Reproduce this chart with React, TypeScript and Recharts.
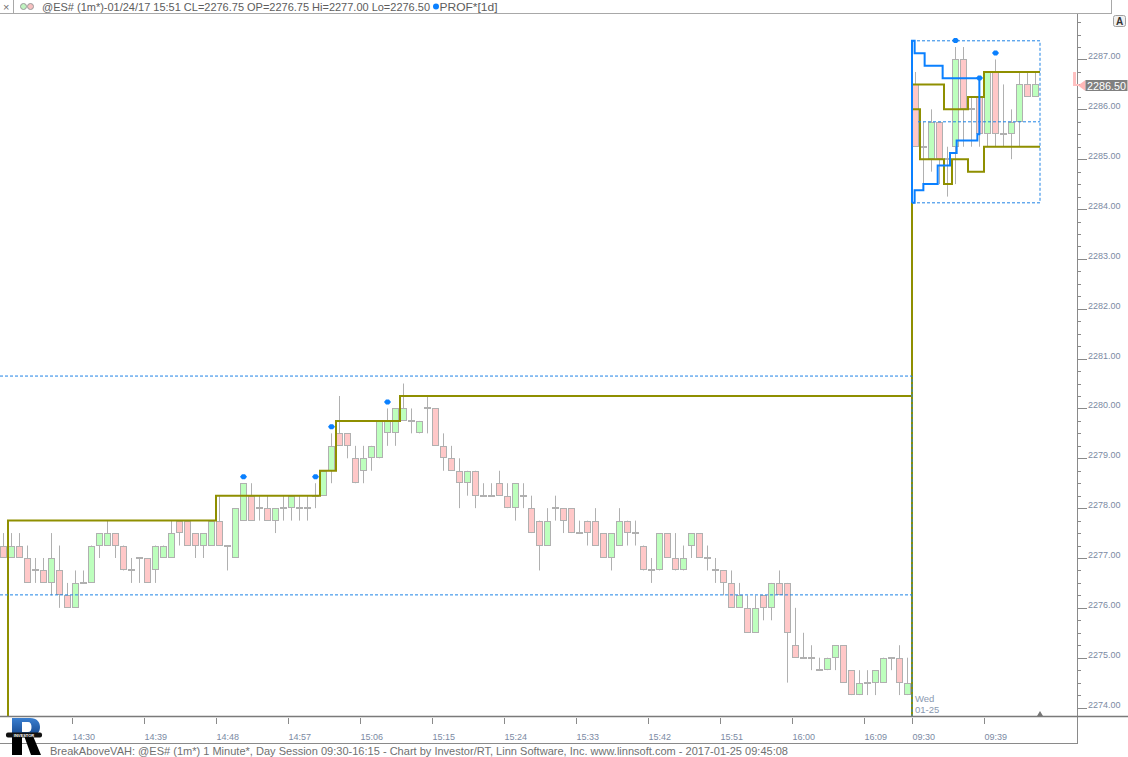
import React from 'react';
import { ComposedChart, Bar, Line, XAxis, YAxis } from 'recharts';

const FONT = '"Liberation Sans", Arial, sans-serif';
const AXIS = '#8a8a8a';
const LABEL = '#7b8aa3';
const WICK = '#b0b0b0';
const UP = '#bdffbd';
const DOWN = '#ffc8c8';
const OLIVE = '#8f8f00';
const BLUE = '#0a80ff';
const BLUE_DASH = '#1f84e6';

// price scale of the plot (plot spans y 14..716)
const Y_MIN = 2273.8305;
const Y_MAX = 2287.9127;
const X_MAX = 134.625; // bar slots across the plot width, incl. right gap

// one-minute bars: tail of 01/24 session, then the 01/25 open
const day1Start = '14:21';
const day1Bars = 114;
const day2Start = '09:30';
const day2Bars = 16;

function minuteLabels(start: string, count: number) {
  const [hh, mm] = start.split(':').map(Number);
  const out: string[] = [];
  for (let i = 0; i < count; i++) {
    const m = hh * 60 + mm + i;
    out.push(`${String(Math.floor(m / 60)).padStart(2, '0')}:${String(m % 60).padStart(2, '0')}`);
  }
  return out;
}
const times = [...minuteLabels(day1Start, day1Bars), ...minuteLabels(day2Start, day2Bars)];

const opens = [
  2277.25, 2277.0, 2277.25, 2277.0, 2276.75, 2276.75, 2276.5, 2276.75, 2276.25, 2276.0,
  2276.5, 2276.5, 2277.25, 2277.25, 2277.5, 2277.25, 2276.75, 2277.0, 2277.0, 2276.75,
  2277.0, 2277.0, 2277.75, 2277.75, 2277.5, 2277.25, 2277.25, 2277.75, 2277.25, 2277.0,
  2277.75, 2278.25, 2278.0, 2278.0, 2277.75, 2278.0, 2278.0, 2278.0, 2278.0, 2278.25,
  2278.25, 2278.75, 2279.5, 2279.5, 2279.0, 2278.75, 2279.0, 2279.0, 2279.5, 2279.5,
  2279.75, 2279.75, 2279.5, 2280.0, 2280.0, 2279.25, 2279.0, 2278.75, 2278.5, 2278.75,
  2278.25, 2278.25, 2278.5, 2278.25, 2278.0, 2278.25, 2278.0, 2277.75, 2277.25, 2278.0,
  2278.0, 2278.0, 2277.5, 2277.75, 2277.75, 2277.5, 2277.0, 2277.25, 2277.75, 2277.5,
  2277.25, 2276.75, 2276.75, 2277.5, 2277.0, 2276.75, 2277.25, 2277.5, 2277.0, 2276.75,
  2276.75, 2276.5, 2276.0, 2276.0, 2275.5, 2276.25, 2276.0, 2276.5, 2276.5, 2275.25,
  2275.0, 2275.0, 2274.75, 2274.75, 2275.0, 2275.25, 2274.75, 2274.25, 2274.5, 2274.5,
  2274.5, 2275.0, 2275.0, 2274.25,
  2286.5, 2285.25, 2285.0, 2285.75, 2285.0, 2285.25,
  2287.0, 2286.0, 2286.25, 2285.5, 2286.75, 2285.5, 2285.5, 2285.75, 2286.5, 2286.25,
];
const highs = [
  2277.5, 2277.5, 2277.5, 2277.25, 2277.0, 2277.0, 2277.5, 2277.25, 2276.5, 2276.75,
  2276.75, 2277.25, 2277.5, 2277.75, 2277.5, 2277.25, 2277.0, 2277.0, 2277.0, 2277.25,
  2277.25, 2277.75, 2277.75, 2277.75, 2277.5, 2277.5, 2277.75, 2278.25, 2277.25, 2278.0,
  2278.5, 2278.5, 2278.25, 2278.25, 2278.0, 2278.25, 2278.25, 2278.25, 2278.25, 2278.5,
  2278.75, 2279.5, 2280.25, 2279.5, 2279.25, 2279.25, 2279.25, 2279.75, 2280.0, 2280.0,
  2280.5, 2280.0, 2279.75, 2280.25, 2280.0, 2279.5, 2279.25, 2279.0, 2278.75, 2278.75,
  2278.5, 2278.5, 2278.75, 2278.5, 2278.5, 2278.5, 2278.25, 2277.75, 2278.0, 2278.25,
  2278.0, 2278.0, 2277.75, 2277.75, 2278.0, 2277.5, 2277.5, 2278.0, 2277.75, 2277.75,
  2277.25, 2277.0, 2277.5, 2277.5, 2277.5, 2277.25, 2277.5, 2277.5, 2277.25, 2277.0,
  2276.75, 2276.75, 2276.5, 2276.25, 2276.25, 2276.25, 2276.5, 2276.75, 2276.5, 2276.0,
  2275.5, 2275.25, 2275.0, 2275.0, 2275.25, 2275.25, 2274.75, 2274.75, 2274.75, 2274.75,
  2275.0, 2275.0, 2275.25, 2275.0,
  2286.75, 2285.75, 2286.0, 2285.75, 2285.25, 2287.25,
  2287.25, 2286.25, 2286.5, 2286.75, 2287.0, 2286.5, 2286.0, 2286.75, 2286.75, 2286.75,
];
const lows = [
  2277.0, 2277.0, 2277.0, 2276.5, 2276.5, 2276.5, 2276.25, 2276.0, 2276.0, 2276.0,
  2276.5, 2276.5, 2277.0, 2277.25, 2277.0, 2276.75, 2276.5, 2276.5, 2276.5, 2276.5,
  2277.0, 2277.0, 2277.25, 2277.25, 2277.0, 2277.0, 2277.25, 2277.25, 2276.75, 2277.0,
  2277.75, 2277.75, 2277.75, 2277.75, 2277.5, 2277.75, 2277.75, 2277.75, 2277.75, 2278.0,
  2278.25, 2278.5, 2279.25, 2279.0, 2278.5, 2278.5, 2278.75, 2279.0, 2279.25, 2279.25,
  2279.75, 2279.5, 2279.5, 2279.5, 2279.25, 2278.75, 2278.75, 2278.0, 2278.25, 2278.0,
  2278.25, 2278.25, 2278.25, 2278.0, 2277.75, 2278.0, 2277.5, 2276.75, 2277.25, 2277.75,
  2277.5, 2277.5, 2277.5, 2277.25, 2277.25, 2277.0, 2276.75, 2277.25, 2277.25, 2277.25,
  2276.75, 2276.5, 2276.75, 2277.0, 2276.75, 2276.75, 2277.0, 2277.0, 2276.75, 2276.5,
  2276.25, 2276.0, 2276.0, 2275.5, 2275.5, 2275.75, 2275.75, 2276.25, 2274.5, 2275.0,
  2275.0, 2274.75, 2274.75, 2274.75, 2274.75, 2274.5, 2274.25, 2274.25, 2274.25, 2274.25,
  2274.5, 2274.75, 2274.25, 2274.25,
  2285.25, 2284.5, 2284.75, 2284.5, 2284.25, 2284.5,
  2285.25, 2285.25, 2285.25, 2285.25, 2285.25, 2285.25, 2285.0, 2285.25, 2286.25, 2286.25,
];
const closes = [
  2277.0, 2277.25, 2277.0, 2276.5, 2276.75, 2276.5, 2277.0, 2276.25, 2276.0, 2276.5,
  2276.5, 2277.25, 2277.5, 2277.5, 2277.25, 2276.75, 2276.75, 2277.0, 2276.5, 2277.25,
  2277.25, 2277.5, 2277.5, 2277.25, 2277.25, 2277.5, 2277.75, 2277.25, 2277.25, 2278.0,
  2278.5, 2277.75, 2278.0, 2277.75, 2278.0, 2278.0, 2278.25, 2278.0, 2278.0, 2278.25,
  2278.75, 2279.25, 2279.25, 2279.25, 2278.5, 2279.0, 2279.25, 2279.75, 2279.75, 2280.0,
  2280.0, 2279.75, 2279.75, 2280.0, 2279.25, 2279.0, 2278.75, 2278.5, 2278.75, 2278.25,
  2278.25, 2278.25, 2278.25, 2278.0, 2278.5, 2278.25, 2277.5, 2277.25, 2277.75, 2278.0,
  2277.75, 2277.5, 2277.5, 2277.5, 2277.25, 2277.0, 2277.5, 2277.75, 2277.5, 2277.5,
  2276.75, 2276.75, 2277.5, 2277.0, 2276.75, 2277.0, 2277.5, 2277.0, 2277.0, 2276.75,
  2276.5, 2276.0, 2276.25, 2275.5, 2276.0, 2276.0, 2276.5, 2276.25, 2275.5, 2275.0,
  2275.0, 2275.0, 2274.75, 2275.0, 2275.25, 2274.5, 2274.25, 2274.5, 2274.5, 2274.75,
  2275.0, 2275.0, 2274.5, 2274.5,
  2285.25, 2285.25, 2285.75, 2285.0, 2285.0, 2287.0,
  2286.0, 2286.0, 2285.5, 2286.75, 2285.5, 2285.5, 2285.75, 2286.5, 2286.25, 2286.5,
];

// bars flagged by the BreakAboveVAH scan (blue dots)
const signalBars = [30, 39, 41, 48, 119, 122, 124];

const xTickLabels = ['14:30', '14:39', '14:48', '14:57', '15:06', '15:15', '15:24', '15:33', '15:42', '15:51', '16:00', '16:09', '09:30', '09:39'];
const priceLabels = [2274, 2275, 2276, 2277, 2278, 2279, 2280, 2281, 2282, 2283, 2284, 2285, 2286, 2287];
const yTicks = priceLabels.flatMap((p) => [p, p + 0.25, p + 0.5, p + 0.75]);

// developing value area (olive), x in bar slots
const vahT = [0, 1, 27, 40, 42, 50, 114, 118, 121, 123, 130];
const vahV = [2273.5, 2277.75, 2278.25, 2278.75, 2279.75, 2280.25, 2286.5, 2286.0, 2286.25, 2286.75, 2286.75];
const valT = [0, 114, 115, 118, 119, 121, 123, 130];
const valV = [2273.5, 2286.0, 2285.0, 2284.5, 2285.0, 2284.75, 2285.25, 2285.25];

// developing range of the new session (solid blue)
const upT = [114, 114, 114.33, 115.58, 117.83, 122.42];
const upV = [2284.125, 2287.375, 2287.125, 2286.875, 2286.625, 2286.625];
const lowT = [114, 114.33, 115.42, 117.21, 118.75, 119.58, 122.17, 122.42];
const lowV = [2284.125, 2284.375, 2284.5, 2284.875, 2285.125, 2285.375, 2285.5, 2286.625];

// prior-day value area (dashed) and today's profile box
const prevVahT = [0, 114, 114];
const prevVahV = [2280.65, 2280.65, 2273.5];
const prevValT = [0, 114];
const prevValV = [2276.26, 2276.26];
const boxT = [114, 130, 130, 114, 114];
const boxV = [2287.375, 2287.375, 2284.125, 2284.125, 2287.375];
const innerT = [114.75, 130];
const innerV = [2285.75, 2285.75];

const pts = (ts: number[], vs: number[]) => ts.map((t, i) => ({ t, v: vs[i] }));

const candles = times.map((time, i) => ({
  time,
  o: opens[i],
  h: highs[i],
  l: lows[i],
  c: closes[i],
  sig: signalBars.includes(i),
}));

function Candle(props: any) {
  const { x, y, width, height, payload } = props;
  if (x == null || !payload) return <g />;
  const { o, h, l, c, sig } = payload;
  const top = Math.min(y, y + height);
  const span = Math.abs(height);
  const py = (v: number) => top + (h > l ? ((h - v) / (h - l)) * span : 0);
  const mid = Math.floor(x + width / 2) - 0.5;
  const bTop = Math.round(py(Math.max(o, c))) + 0.5;
  const bBot = Math.round(py(Math.min(o, c))) - 0.5;
  return (
    <g>
      <line x1={mid} x2={mid} y1={py(h)} y2={py(l)} stroke={WICK} strokeWidth={1} />
      {o === c ? (
        <line x1={mid - 3.5} x2={mid + 3.5} y1={Math.round(py(o))} y2={Math.round(py(o))} stroke={WICK} strokeWidth={2} />
      ) : (
        <rect x={mid - 3} y={bTop} width={6} height={Math.max(1, bBot - bTop)} fill={c > o ? UP : DOWN} stroke={WICK} strokeWidth={1} />
      )}
      {sig && (
        <polygon
          points={`${mid - 3.5},${py(h) - 6.5} ${mid - 1.5},${py(h) - 9} ${mid + 1.5},${py(h) - 9} ${mid + 3.5},${py(h) - 6.5} ${mid + 1.5},${py(h) - 4} ${mid - 1.5},${py(h) - 4}`}
          fill={BLUE}
        />
      )}
    </g>
  );
}

function TimeTick({ x, y, payload }: any) {
  if (!xTickLabels.includes(payload.value)) return <g />;
  const tx = Math.round(x - 4) + 0.5;
  return (
    <g>
      <line x1={tx} x2={tx} y1={y + 2} y2={y + 8} stroke={AXIS} />
      <text x={tx} y={y + 24} fontSize={9} fill={LABEL} fontFamily={FONT}>{payload.value}</text>
    </g>
  );
}

function PriceTick({ x, y, payload }: any) {
  const v = payload.value;
  const yy = Math.round(y) + 0.5;
  if (Math.abs(v - Math.round(v)) > 1e-6) {
    return <line x1={x} x2={x + 4} y1={yy} y2={yy} stroke={AXIS} />;
  }
  return (
    <g>
      <line x1={x} x2={x + 10} y1={yy} y2={yy} stroke={AXIS} />
      <text x={x + 11} y={yy - 1} fontSize={9} fill={LABEL} fontFamily={FONT}>{v.toFixed(2)}</text>
    </g>
  );
}

function stepLine(key: string, ts: number[], vs: number[], color: string, width: number, dash?: string, type: any = 'stepAfter') {
  return (
    <Line
      key={key}
      xAxisId="num"
      data={pts(ts, vs)}
      dataKey="v"
      type={type}
      stroke={color}
      strokeWidth={width}
      strokeDasharray={dash}
      dot={false}
      activeDot={false}
      legendType="none"
      isAnimationActive={false}
    />
  );
}

export default function App() {
  return (
    <div style={{ position: 'relative', width: 1128, height: 757, background: '#fff', fontFamily: FONT }}>
      <style>{'body{margin:0}'}</style>
      <ComposedChart width={1128} height={757} data={candles} margin={{ top: 14, right: 0, bottom: 13, left: 0 }}>
        <XAxis
          xAxisId="cat"
          dataKey="time"
          interval={0}
          height={28}
          tickSize={0}
          tickMargin={0}
          axisLine={false}
          tickLine={false}
          padding={{ left: 0, right: 37 }}
          tick={(p: any) => <TimeTick {...p} />}
        />
        <XAxis xAxisId="num" type="number" dataKey="t" domain={[0, X_MAX]} allowDataOverflow hide />
        <YAxis
          orientation="right"
          width={51}
          domain={[Y_MIN, Y_MAX]}
          allowDataOverflow
          ticks={yTicks}
          interval={0}
          tickSize={0}
          tickMargin={0}
          axisLine={false}
          tickLine={false}
          tick={(p: any) => <PriceTick {...p} />}
        />
        <Bar
          xAxisId="cat"
          dataKey={(d: any) => [d.l, d.h]}
          barSize={6}
          shape={(p: any) => <Candle {...p} />}
          isAnimationActive={false}
        />
        {stepLine('vah', vahT, vahV, OLIVE, 2)}
        {stepLine('val', valT, valV, OLIVE, 2)}
        {stepLine('pvah', prevVahT, prevVahV, BLUE_DASH, 1, '3 2', 'linear')}
        {stepLine('pval', prevValT, prevValV, BLUE_DASH, 1, '3 2', 'linear')}
        {stepLine('box', boxT, boxV, BLUE_DASH, 1, '3 2', 'linear')}
        {stepLine('inner', innerT, innerV, BLUE_DASH, 1, '3 2', 'linear')}
        {stepLine('up', upT, upV, BLUE, 2)}
        {stepLine('low', lowT, lowV, BLUE, 2)}
      </ComposedChart>

      <svg width={1128} height={757} style={{ position: 'absolute', left: 0, top: 0, pointerEvents: 'none' }} fontFamily={FONT}>
        <defs>
          <linearGradient id="rlogo" x1="0" y1="0" x2="0" y2="1">
            <stop offset="0" stopColor="#3a7fd0" />
            <stop offset="0.42" stopColor="#1b4f96" />
            <stop offset="0.46" stopColor="#000" />
            <stop offset="1" stopColor="#000" />
          </linearGradient>
        </defs>

        {/* header strip */}
        <line x1={0} x2={1112} y1={13.5} y2={13.5} stroke="#a8a8a8" />
        <line x1={13.5} x2={13.5} y1={0} y2={13} stroke="#a8a8a8" />
        <line x1={1111.5} x2={1111.5} y1={0} y2={13} stroke="#a8a8a8" />
        <text x={3} y={10.5} fontSize={11} fill="#707070">×</text>
        <circle cx={23.5} cy={6.5} r={3} fill="#c0f5c0" stroke="#9a9a9a" />
        <circle cx={30.5} cy={6.5} r={3} fill="#f7c0c0" stroke="#9a9a9a" />
        <text x={42} y={10.5} fontSize={11} fill="#5c5c5c" textLength={388} lengthAdjust="spacingAndGlyphs">
          @ES# (1m*)-01/24/17 15:51 CL=2276.75 OP=2276.75 Hi=2277.00 Lo=2276.50
        </text>
        <circle cx={436} cy={6.5} r={3} fill={BLUE} />
        <text x={439.5} y={10.5} fontSize={11} fill="#5c5c5c" textLength={58} lengthAdjust="spacingAndGlyphs">PROF*[1d]</text>

        {/* A button */}
        <rect x={1113.5} y={15.5} width={12} height={11} rx={2} fill="#f0f0f0" stroke="#a0a0a0" />
        <text x={1119.5} y={25} fontSize={10} fontWeight="bold" fill="#333" textAnchor="middle">A</text>

        {/* frame */}
        <line x1={1077.5} x2={1077.5} y1={14} y2={744} stroke={AXIS} />
        <line x1={0} x2={1128} y1={716.5} y2={716.5} stroke="#7a7a7a" strokeWidth={1.5} />
        <line x1={0} x2={1077.5} y1={743.5} y2={743.5} stroke={AXIS} />

        {/* last price marker */}
        <rect x={1073} y={72} width={3} height={13} fill="#ffc0c0" />
        <rect x={1073} y={84} width={6} height={2} fill="#ffc0c0" />
        <polygon points="1078,85.5 1085.5,80 1085.5,91" fill="#ffb8b8" />
        <rect x={1085.5} y={80} width={42} height={11} fill="#808080" />
        <text x={1087} y={89.5} fontSize={10.5} fill="#fff" textLength={39} lengthAdjust="spacingAndGlyphs">2286.50</text>

        {/* session date */}
        <text x={915} y={702} fontSize={9.5} fill="#8a98b0">Wed</text>
        <text x={915} y={713} fontSize={9.5} fill="#8a98b0">01-25</text>
        <polygon points="1037,716 1043,716 1040,711" fill="#777" />

        {/* footer */}
        <text x={50} y={755} fontSize={11} fill="#707070" textLength={738} lengthAdjust="spacingAndGlyphs">
          BreakAboveVAH: @ES# (1m*) 1 Minute*, Day Session 09:30-16:15 - Chart by Investor/RT, Linn Software, Inc. www.linnsoft.com - 2017-01-25 09:45:08
        </text>

        {/* logo */}
        <path
          d="M12,718 H30 C37,718 40,722 40,727 C40,732 37,735 33,736 L41,755 H31 L24.5,737 H22 V755 H12 Z M22,722 V732 H28 C30.5,732 31.5,730 31.5,727 C31.5,724 30.5,722 28,722 Z"
          fill="url(#rlogo)"
          fillRule="evenodd"
        />
        <rect x={6} y={732.5} width={36} height={5} rx={2} fill="#111" />
        <text x={24} y={736.6} fontSize={4} fill="#fff" textAnchor="middle" fontWeight="bold">INVESTOR</text>
      </svg>
    </div>
  );
}
